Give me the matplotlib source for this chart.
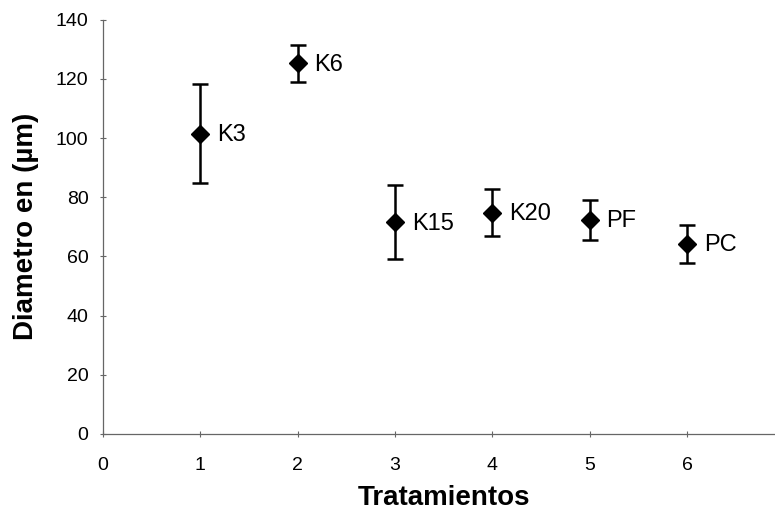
import matplotlib.pyplot as plt

# treatment index, mean diameter and error (µm)
tratamiento = [1, 2, 3, 4, 5, 6]
diametro = [101.5, 125.3, 71.5, 74.8, 72.3, 64.3]
error = [16.7, 6.2, 12.5, 8.0, 6.8, 6.4]
etiquetas = ["K3", "K6", "K15", "K20", "PF", "PC"]

plt.rcParams["font.family"] = ["Liberation Sans", "DejaVu Sans"]

fig = plt.figure(figsize=(7.75, 5.19), dpi=100)
# axes runs slightly past the right edge so the last tick label is cut off
ax = fig.add_axes([0.133, 0.164, 0.879, 0.798])

ax.errorbar(tratamiento, diametro, yerr=error, fmt="D", color="black",
            markersize=9, ecolor="black", elinewidth=1.8, capsize=6,
            capthick=1.8)

for x, y, lab in zip(tratamiento, diametro, etiquetas):
    ax.annotate(lab, (x, y), xytext=(12, -1), textcoords="offset points",
                ha="left", va="center", fontsize=17)

ax.set_xlim(0, 7)
ax.set_ylim(0, 140)
ax.set_xticks(range(0, 8))
ax.set_yticks(range(0, 141, 20))

for side in ("top", "right"):
    ax.spines[side].set_visible(False)
for side in ("left", "bottom"):
    ax.spines[side].set_color("#666666")
    ax.spines[side].set_linewidth(0.9)

ax.tick_params(axis="both", direction="inout", length=5, width=0.8,
               color="#666666", labelsize=14)
ax.tick_params(axis="y", pad=8)
ax.tick_params(axis="x", pad=14)

ax.set_xlabel("Tratamientos", fontsize=20, fontweight="bold", labelpad=8)
ax.set_ylabel("Diametro en (µm)", fontsize=20, fontweight="bold", labelpad=12)

fig.savefig("out.png", dpi=100)
